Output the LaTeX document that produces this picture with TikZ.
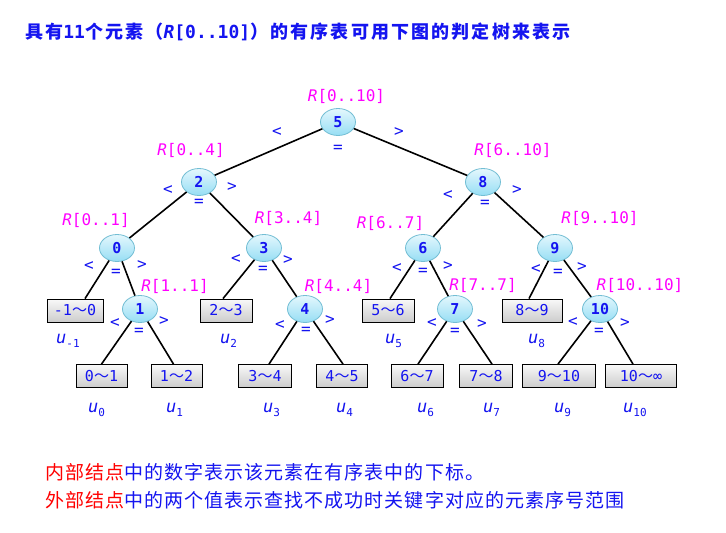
\documentclass[tikz,border=0pt]{standalone}
\usepackage{fontspec}
\usetikzlibrary{shapes.geometric}
\setmonofont{DejaVu Sans Mono}
\newfontfamily\cjk{Noto Sans CJK SC}
\newfontfamily\cjkT{Noto Sans CJK SC}[LetterSpace=12]
\newfontfamily\cjkB{Noto Sans CJK SC}[LetterSpace=5.5]
\definecolor{tblue}{RGB}{20,20,240}
\definecolor{tmag}{RGB}{255,0,255}
\definecolor{etop}{RGB}{228,247,253}
\definecolor{ebot}{RGB}{150,222,244}
\definecolor{ebord}{RGB}{115,190,212}
\newcommand\mytil{{\cjk ～}}
\newcommand\usub[1]{{\itshape u}\raisebox{-4pt}{\fontsize{11}{11}\selectfont #1}}
\begin{document}
\begin{tikzpicture}[x=1pt,y=-1pt,
  inode/.style={ellipse, draw=ebord, line width=0.8pt, top color=etop, bottom color=ebot,
    minimum width=35pt, minimum height=27pt, inner sep=0pt,
    font=\fontsize{15}{15}\ttfamily\bfseries, text=tblue},
  ebox/.style={rectangle, draw=black, line width=0.8pt, top color=gray!5, bottom color=gray!40,
    minimum height=23pt, inner sep=0pt, font=\fontsize{15}{15}\ttfamily, text=tblue},
  rlab/.style={font=\fontsize{16}{16}\ttfamily, text=tmag, inner sep=0pt},
  sym/.style={font=\fontsize{16}{16}\ttfamily, text=tblue, inner sep=0pt},
  ulab/.style={font=\fontsize{17}{17}\ttfamily, text=tblue, inner sep=0pt, anchor=base west},
  edge/.style={draw=black, line width=1.6pt}]
\useasboundingbox (0,0) rectangle (726,533);
\fill[white] (0,0) rectangle (726,533);

% title
\node[anchor=west, inner sep=0pt, text=tblue] (title) at (25,32)
  {\fontsize{18}{18}\selectfont\bfseries{\cjkT 具有}{\ttfamily\bfseries 11}{\cjkT 个元素（}{\ttfamily\bfseries\itshape R}{\ttfamily\bfseries [0..10]}{\cjkT ）的有序表可用下图的判定树来表示}};

% internal nodes
\node[inode] (n5) at (338,122) {5};
\node[inode] (n2) at (199,182) {2};
\node[inode] (n8) at (483,182) {8};
\node[inode] (n0) at (117,248) {0};
\node[inode] (n3) at (264,248) {3};
\node[inode] (n6) at (423,248) {6};
\node[inode] (n9) at (555,248) {9};
\node[inode] (n1) at (140,309) {1};
\node[inode] (n4) at (305,309) {4};
\node[inode] (n7) at (455,309) {7};
\node[inode] (n10) at (600,309) {10};

% external nodes
\node[ebox, minimum width=56pt] (bm1) at (75,310.5) {-1\mytil 0};
\node[ebox, minimum width=52pt] (b2) at (226,310.5) {2\mytil 3};
\node[ebox, minimum width=52pt] (b5) at (388,310.5) {5\mytil 6};
\node[ebox, minimum width=60pt] (b8) at (532,310.5) {8\mytil 9};
\node[ebox, minimum width=51pt] (b0) at (101.5,376) {0\mytil 1};
\node[ebox, minimum width=51pt] (b1) at (176.5,376) {1\mytil 2};
\node[ebox, minimum width=53pt] (b3) at (265,376) {3\mytil 4};
\node[ebox, minimum width=51pt] (b4) at (342,376) {4\mytil 5};
\node[ebox, minimum width=52pt] (b6) at (417,376) {6\mytil 7};
\node[ebox, minimum width=53pt] (b7) at (486,376) {7\mytil 8};
\node[ebox, minimum width=73pt] (b9) at (559,376) {9\mytil 10};
\node[ebox, minimum width=71pt] (b10) at (641,376) {10\mytil ∞};

% edges
\draw[edge] (n5) -- (n2);
\draw[edge] (n5) -- (n8);
\draw[edge] (n2) -- (n0);
\draw[edge] (n2) -- (n3);
\draw[edge] (n8) -- (n6);
\draw[edge] (n8) -- (n9);
\draw[edge] (n0) -- ([xshift=10pt]bm1.north);
\draw[edge] (n0) -- (n1);
\draw[edge] (n3) -- ([xshift=-3pt]b2.north);
\draw[edge] (n3) -- (n4);
\draw[edge] (n6) -- ([xshift=2pt]b5.north);
\draw[edge] (n6) -- (n7);
\draw[edge] (n9) -- ([xshift=-3pt]b8.north);
\draw[edge] (n9) -- (n10);
\draw[edge] (n1) -- (b0.north);
\draw[edge] (n1) -- ([xshift=-3pt]b1.north);
\draw[edge] (n4) -- ([xshift=4pt]b3.north);
\draw[edge] (n4) -- ([xshift=1pt]b4.north);
\draw[edge] (n7) -- ([xshift=1pt]b6.north);
\draw[edge] (n7) -- ([xshift=6pt]b7.north);
\draw[edge] (n10) -- ([xshift=-1pt]b9.north);
\draw[edge] (n10) -- ([xshift=-8pt]b10.north);

% range labels
\node[rlab] (r5) at (346.5,96) {{\itshape R}[0..10]};
\node[rlab] (r2) at (191,150) {{\itshape R}[0..4]};
\node[rlab] (r8) at (513,150) {{\itshape R}[6..10]};
\node[rlab] (r0) at (96,220) {{\itshape R}[0..1]};
\node[rlab] (r3) at (288.5,218) {{\itshape R}[3..4]};
\node[rlab] (r6) at (390.5,223) {{\itshape R}[6..7]};
\node[rlab] (r9) at (600,218) {{\itshape R}[9..10]};
\node[rlab] (r1) at (175,286) {{\itshape R}[1..1]};
\node[rlab] (r4) at (338.5,286) {{\itshape R}[4..4]};
\node[rlab] (r7) at (483,285) {{\itshape R}[7..7]};
\node[rlab] (r10) at (640,285) {{\itshape R}[10..10]};

% comparison symbols
\node[sym] (lt5) at (277,132) {<}; \node[sym] (gt5) at (399,132) {>}; \node[sym] (eq5) at (338,149) {=};
\node[sym] (lt2) at (168,190) {<}; \node[sym] (gt2) at (232,187) {>}; \node[sym] (eq2) at (199,203) {=};
\node[sym] (lt8) at (448,195) {<}; \node[sym] (gt8) at (517,190) {>}; \node[sym] (eq8) at (485,204) {=};
\node[sym] (lt0) at (89,266) {<}; \node[sym] (gt0) at (142,265) {>}; \node[sym] (eq0) at (116,273) {=};
\node[sym] (lt3) at (236,259) {<}; \node[sym] (gt3) at (288,260) {>}; \node[sym] (eq3) at (263,270) {=};
\node[sym] (lt6) at (397,268) {<}; \node[sym] (gt6) at (448,266) {>}; \node[sym] (eq6) at (423,272) {=};
\node[sym] (lt9) at (536,269) {<}; \node[sym] (gt9) at (582,267) {>}; \node[sym] (eq9) at (558,273) {=};
\node[sym] (lt1) at (115,323) {<}; \node[sym] (gt1) at (164,321) {>}; \node[sym] (eq1) at (139,332) {=};
\node[sym] (lt4) at (280,325) {<}; \node[sym] (gt4) at (330,320) {>}; \node[sym] (eq4) at (306,331) {=};
\node[sym] (lt7) at (432,323) {<}; \node[sym] (gt7) at (482,324) {>}; \node[sym] (eq7) at (455,332) {=};
\node[sym] (lt10) at (573,322) {<}; \node[sym] (gt10) at (625,323) {>}; \node[sym] (eq10) at (599,332) {=};

% u labels
\node[ulab] (um1) at (56,343) {\usub{-1}};
\node[ulab] (u2) at (220,343) {\usub{2}};
\node[ulab] (u5) at (385,343) {\usub{5}};
\node[ulab] (u8) at (528,343) {\usub{8}};
\node[ulab] (u0) at (88,412) {\usub{0}};
\node[ulab] (u1) at (166,412) {\usub{1}};
\node[ulab] (u3) at (263,412) {\usub{3}};
\node[ulab] (u4) at (336,412) {\usub{4}};
\node[ulab] (u6) at (417,412) {\usub{6}};
\node[ulab] (u7) at (483,412) {\usub{7}};
\node[ulab] (u9) at (554,412) {\usub{9}};
\node[ulab] (u10) at (623,412) {\usub{10}};

% notes
\node[anchor=west, inner sep=0pt, text=tblue] (l1) at (45,472)
  {\fontsize{19}{19}\cjkB {\color{red}内部结点}中的数字表示该元素在有序表中的下标。};
\node[anchor=west, inner sep=0pt, text=tblue] (l2) at (45,500)
  {\fontsize{19}{19}\cjkB {\color{red}外部结点}中的两个值表示查找不成功时关键字对应的元素序号范围};
\end{tikzpicture}
\end{document}
